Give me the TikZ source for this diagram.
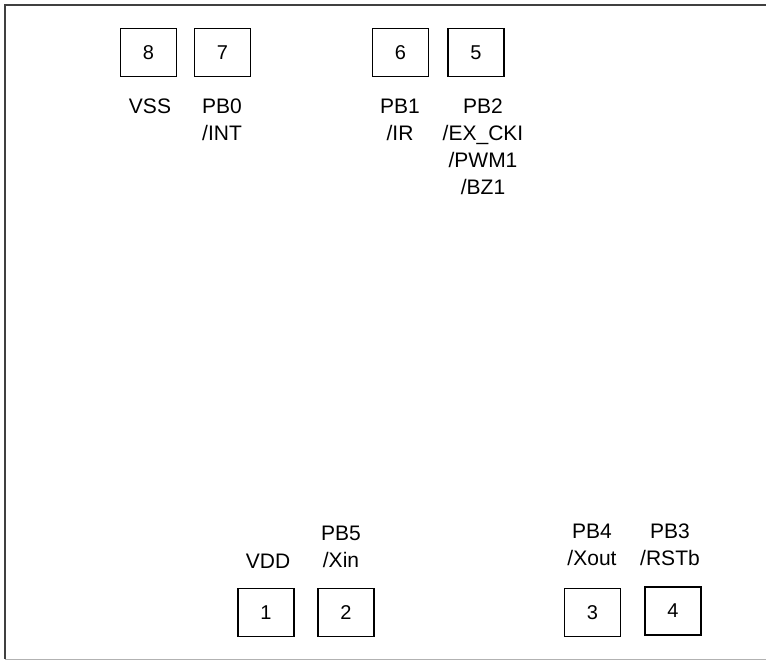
\documentclass[tikz,border=0pt]{standalone}
\usepackage{fontspec}
\setmainfont{Liberation Sans}
\begin{document}
\begin{tikzpicture}[x=1pt, y=-1pt,
        pin/.style={rectangle, draw, line width=1.3pt, minimum width=56pt, minimum height=48pt, inner sep=0pt, font=\fontsize{20}{24}\selectfont},
        pinname/.style={align=center, anchor=north, inner sep=0pt, font=\fontsize{21}{27}\selectfont}
    ]
    \useasboundingbox (0,0) rectangle (766,660);

    % Outline
    \draw[line width=2pt, black!75] (766,5) -- (5,5) -- (5,659);
    \draw[line width=1pt, black!30] (5,659) -- (766,659);

    % Define pins
    \node[pin] (pin8) at (148.5, 52.5) {8};
    \node[pin] (pin7) at (222.5, 52.5) {7};
    \node[pin] (pin6) at (400.5, 52.5) {6};
    \node[pin] (pin5) at (476, 52.5) {5};
    \node[pin] (pin1) at (266, 612.5) {1};
    \node[pin] (pin2) at (346, 612.5) {2};
    \node[pin] (pin3) at (592.5, 612.5) {3};
    \node[pin] (pin4) at (673, 611) {4};

    % Pin names
    \node[pinname] (name8) at (150, 98.5) {VSS};
    \node[pinname] (name7) at (222, 98.5) {PB0\\/INT};
    \node[pinname] (name6) at (400, 98.5) {PB1\\/IR};
    \node[pinname] (name5) at (483, 98.5) {PB2\\/EX\_CKI\\/PWM1\\/BZ1};
    \node[pinname] (name1) at (268, 554) {VDD};
    \node[pinname] (name2) at (341, 525.5) {PB5\\/Xin};
    \node[pinname] (name3) at (592, 523.5) {PB4\\/Xout};
    \node[pinname] (name4) at (670, 523.5) {PB3\\/RSTb};

\end{tikzpicture}
\end{document}
